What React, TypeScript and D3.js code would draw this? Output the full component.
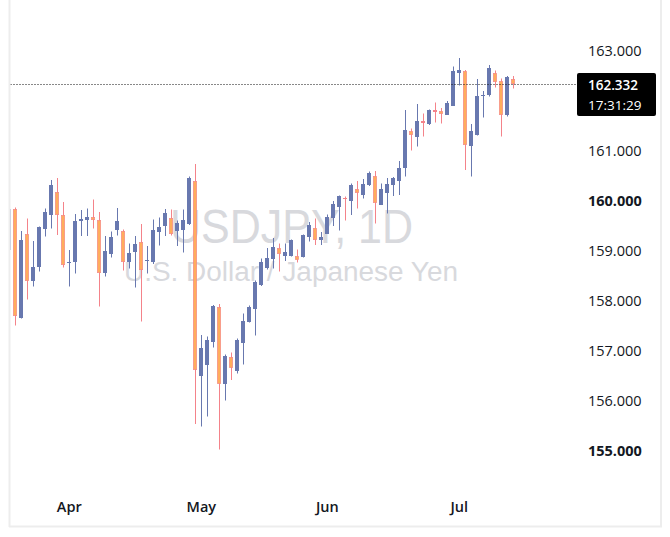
import React from "react";
import * as d3 from "d3";

// Daily candles (first one is only partly visible at the left edge)
const opens = [159.02,159.85,157.67,159.34,158.41,158.69,159.45,159.71,160.19,159.71,158.77,158.79,159.59,159.63,159.69,159.61,158.55,158.95,159.42,159.41,158.79,158.98,159.18,158.80,158.77,159.37,159.49,159.67,159.41,159.42,159.54,160.41,156.49,156.73,157.19,157.87,156.33,156.87,156.59,157.15,157.58,157.83,158.32,158.67,158.83,159.05,158.91,158.91,158.91,158.89,159.29,159.47,159.21,159.35,159.65,159.87,160.07,160.00,160.25,160.12,160.32,160.50,159.92,160.15,160.32,160.41,160.65,161.40,161.27,161.59,161.53,161.82,161.80,161.73,161.91,162.55,162.60,161.09,161.31,162.09,162.11,162.57,162.40,161.72,162.44];
const highs = [159.95,159.87,159.40,159.65,159.20,159.49,159.85,160.42,160.46,159.98,159.02,159.74,159.82,159.85,160.03,159.78,159.30,159.39,159.86,159.43,159.15,159.30,159.54,159.10,159.63,159.67,159.84,159.83,159.61,159.83,160.49,160.74,157.32,157.29,157.92,157.94,156.93,156.97,157.25,157.75,157.91,158.41,158.85,159.06,159.26,159.15,159.15,159.23,159.03,159.33,159.58,159.65,159.38,159.73,160.00,160.11,160.09,160.35,160.40,160.44,160.59,160.60,160.35,160.46,160.48,160.80,161.82,161.45,161.94,161.75,161.83,161.97,161.86,162.00,162.69,162.86,162.62,161.54,162.44,162.20,162.72,162.61,162.45,162.50,162.50];
const lows = [158.95,157.51,157.65,158.03,158.29,158.59,159.29,159.45,159.32,158.67,158.29,158.55,159.30,159.30,159.45,157.89,158.49,158.87,159.31,158.61,158.65,158.27,157.59,158.55,158.74,159.11,159.30,159.31,159.10,158.97,159.52,155.54,155.49,155.69,157.07,155.03,156.01,156.42,156.55,156.73,157.57,157.31,158.30,158.63,158.65,158.59,158.80,158.89,158.77,158.87,159.19,159.12,159.12,159.34,159.50,159.41,159.61,159.72,159.85,160.05,160.30,159.55,159.92,159.75,160.10,160.12,160.49,161.01,161.09,161.29,161.52,161.57,161.55,161.73,161.91,162.31,160.62,160.49,161.31,161.67,162.09,162.27,161.29,161.69,162.25];
const closes = [159.85,157.70,159.22,158.41,158.69,159.48,159.78,160.32,159.73,158.71,158.79,159.60,159.64,159.68,159.61,158.55,159.00,159.27,159.60,158.79,158.96,159.14,158.61,158.82,159.42,159.48,159.76,159.33,159.56,159.62,160.46,156.61,157.07,157.23,157.90,156.35,156.91,156.67,157.21,157.60,157.88,158.38,158.78,158.86,159.08,158.93,158.98,159.21,158.81,159.32,159.52,159.23,159.28,159.69,159.94,160.10,160.03,160.32,160.17,160.35,160.55,159.97,160.25,160.35,160.47,160.67,161.42,161.31,161.60,161.57,161.82,161.77,161.75,161.96,162.60,162.62,161.11,161.40,162.10,162.12,162.66,162.39,161.71,162.48,162.332];

const priceTicks = [155, 156, 157, 158, 159, 160, 161, 163];
const boldTicks = [155, 160];
const monthNames = ["Apr", "May", "Jun", "Jul"];
const monthFirstBar = [10, 32, 53, 75];
const lastPrice = 162.332;
const countdown = "17:31:29";
const title = "USDJPY, 1D";
const subtitle = "U.S. Dollar / Japanese Yen";

const W = 670, H = 537;
const UP = "#6878AF";
const DOWN_FILL = "#FFAD5C";
const DOWN_LINE = "#F4838A";
const TEXT = "#131722";
const FONT = "'Open Sans', 'DejaVu Sans', sans-serif";
const WM_FONT = "'Liberation Sans', Arial, sans-serif";

export default function App() {
  const n = closes.length;
  const x = d3.scaleLinear().domain([0, n - 1]).range([9.3, 9.3 + 6 * (n - 1)]);
  const y = d3.scaleLinear().domain([155, 163]).range([451, 51]);

  const candles = d3.range(n).map((i) => {
    const up = closes[i] >= opens[i];
    const cx = Math.round(x(i));
    const top = Math.round(y(Math.max(opens[i], closes[i])));
    const bot = Math.round(y(Math.min(opens[i], closes[i])));
    const h = Math.max(1, bot - top);
    const wick = (
      <line key={"w" + i} x1={cx + 0.5} x2={cx + 0.5} y1={y(highs[i])} y2={y(lows[i])}
        stroke={up ? UP : DOWN_LINE} strokeWidth={1} />
    );
    const body = up ? (
      <rect key={"b" + i} x={cx - 2} y={top} width={4} height={h} fill={UP} />
    ) : h >= 3 ? (
      <rect key={"b" + i} x={cx - 1.7} y={top + 0.3} width={3.4} height={h - 0.6} fill={DOWN_FILL}
        stroke={DOWN_LINE} strokeWidth={0.6} />
    ) : (
      <rect key={"b" + i} x={cx - 2} y={top} width={4} height={h} fill={DOWN_LINE} />
    );
    return <g key={i}>{wick}{body}</g>;
  });

  const yLast = y(lastPrice);

  return (
    <svg width={W} height={H} style={{ position: "absolute", left: 0, top: 0, background: "#fff" }}
      fontFamily={FONT}>
      <defs>
        <clipPath id="pane">
          <rect x={10.5} y={0} width={562} height={490} />
        </clipPath>
      </defs>
      <rect x={0} y={0} width={W} height={H} fill="#fff" />
      {/* watermark */}
      <text x={291.5} y={243} textAnchor="middle" fontSize={48} fill="#d8d9dd" fontFamily={WM_FONT}
        textLength={243} lengthAdjust="spacingAndGlyphs">{title}</text>
      <text x={291} y={281} textAnchor="middle" fontSize={27} fill="#d8d9dd" fontFamily={WM_FONT}
        textLength={334} lengthAdjust="spacingAndGlyphs">{subtitle}</text>

      <g clipPath="url(#pane)">{candles}</g>

      {/* last price dotted line */}
      <line x1={10.5} x2={577} y1={Math.round(yLast) + 0.5} y2={Math.round(yLast) + 0.5}
        stroke="#111" strokeWidth={1} strokeDasharray="1 2" />

      {/* price axis */}
      {priceTicks.map((p) => (
        <text key={p} x={588} y={y(p)} dy="0.36em" fontSize={14.5} fill={TEXT}
          fontWeight={boldTicks.includes(p) ? 700 : 400}>{p.toFixed(3)}</text>
      ))}
      <rect x={577} y={73} width={79} height={43} rx={2} fill="#000" />
      <text x={588} y={90} fontSize={13.5} fill="#fff" fontWeight={600}>{lastPrice.toFixed(3)}</text>
      <text x={588} y={110} fontSize={13.5} fill="#fff">{countdown}</text>

      {/* time axis */}
      {monthNames.map((m, k) => (
        <text key={m} x={x(monthFirstBar[k])} y={512} textAnchor="middle" fontSize={14.5}
          fontWeight={600} fill={TEXT}>{m}</text>
      ))}

      {/* frame */}
      <line x1={9.5} x2={9.5} y1={0} y2={527} stroke="#ededed" strokeWidth={2} />
      <line x1={661} x2={661} y1={0} y2={527} stroke="#ededed" strokeWidth={2} />
      <line x1={9} x2={662} y1={526.5} y2={526.5} stroke="#ededed" strokeWidth={2} />
    </svg>
  );
}
